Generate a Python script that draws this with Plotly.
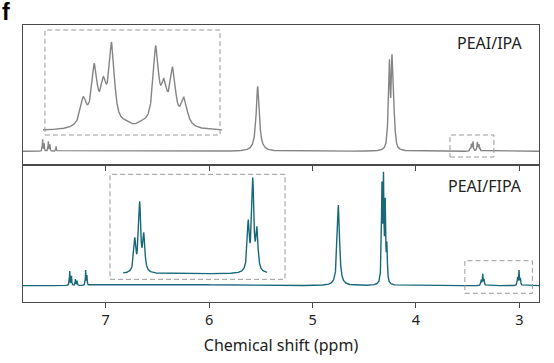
import numpy as np
import plotly.graph_objects as go

# ---------------- data ----------------
# Peak lists: chemical shift (ppm), peak height (a.u.), half-width (ppm)
ipa_ppm = [7.610, 7.595, 7.555, 7.540, 7.480,
           5.530,
           4.271, 4.256, 4.232, 4.217, 4.200,
           3.4737, 3.4635, 3.4552, 3.4475, 3.4343, 3.4193, 3.4069, 3.3993, 3.3913, 3.3808]
ipa_height = [12, 8, 10, 7, 5,
              65,
              35, 92, 97, 65, 20,
              3.85, 7.6, 6.1, 10.0, 1.24, 1.24, 9.6, 5.9, 7.2, 3.8]
ipa_width = [0.003, 0.003, 0.003, 0.003, 0.003,
             0.018,
             0.008, 0.008, 0.008, 0.008, 0.008,
             0.0034, 0.0031, 0.0031, 0.003, 0.0045, 0.0045, 0.003, 0.0031, 0.0031, 0.0034]

fipa_ppm = [7.348, 7.331, 7.293, 7.277, 7.194, 7.182,
            6.270,
            4.750,
            4.329, 4.314, 4.297, 4.281,
            3.369, 3.354, 3.341, 3.017, 3.003, 2.990]
fipa_height = [14.7, 10, 6.7, 5, 15.7, 10.7,
               1.7,
               80.7,
               104, 114, 88, 44,
               6.0, 11.9, 6.8, 8.9, 15.8, 7.8]
fipa_width = [0.003, 0.003, 0.003, 0.003, 0.003, 0.003,
              0.30,
              0.013,
              0.005, 0.005, 0.005, 0.005,
              0.0038, 0.0038, 0.0038, 0.0038, 0.0038, 0.0038]

x_ticks = [7, 6, 5, 4, 3]
labels = ["PEAI/IPA", "PEAI/FIPA"]

GRAY = "#848484"
TEAL = "#18687a"
BOX = "#999999"


def spectrum(x, pos, hgt, wid):
    pos = np.asarray(pos, float)
    hgt = np.asarray(hgt, float)
    wid = np.asarray(wid, float)
    M = wid[None, :] ** 2 / ((pos[:, None] - pos[None, :]) ** 2 + wid[None, :] ** 2)
    amp = np.linalg.solve(M, hgt)
    y = np.zeros_like(x)
    for a, p, w in zip(amp, pos, wid):
        y += a * w ** 2 / ((x - p) ** 2 + w ** 2)
    return y


x_main = np.arange(2.80, 7.81, 0.0004)
y_ipa = spectrum(x_main, ipa_ppm, ipa_height, ipa_width)
y_fipa = spectrum(x_main, fipa_ppm, fipa_height, fipa_width)

ins1_range = [3.5108, 3.3459]
x_ins1 = np.linspace(ins1_range[1], ins1_range[0], 2000)
y_ins1 = spectrum(x_ins1, ipa_ppm, ipa_height, ipa_width)

ins2_range = [3.446, 2.903]
x_ins2 = np.linspace(2.959, 3.405, 2500)
y_ins2 = spectrum(x_ins2, fipa_ppm, fipa_height, fipa_width)

fig = go.Figure()
fig.add_trace(go.Scatter(x=x_main, y=y_ipa, mode="lines", line=dict(color=GRAY, width=1.4),
                         xaxis="x", yaxis="y", showlegend=False, hoverinfo="skip"))
fig.add_trace(go.Scatter(x=x_main, y=y_fipa, mode="lines", line=dict(color=TEAL, width=1.4),
                         xaxis="x2", yaxis="y2", showlegend=False, hoverinfo="skip"))
fig.add_trace(go.Scatter(x=x_ins1, y=y_ins1, mode="lines", line=dict(color=GRAY, width=1.4),
                         xaxis="x3", yaxis="y3", showlegend=False, hoverinfo="skip"))
fig.add_trace(go.Scatter(x=x_ins2, y=y_ins2, mode="lines", line=dict(color=TEAL, width=1.4),
                         xaxis="x4", yaxis="y4", showlegend=False, hoverinfo="skip"))

AX = "#4a4a4a"
split = 0.4946
common_x = dict(range=[7.80, 2.81], showline=True, mirror=True, linecolor=AX, linewidth=1,
                ticks="outside", ticklen=5, tickcolor=AX, tickvals=x_ticks,
                showgrid=False, zeroline=False)
common_y = dict(showline=True, mirror=True, linecolor=AX, linewidth=1, showticklabels=False,
                ticks="", showgrid=False, zeroline=False)

fig.update_layout(
    width=554, height=363,
    margin=dict(l=23, r=15, t=25, b=61),
    paper_bgcolor="white", plot_bgcolor="rgba(0,0,0,0)",
    font=dict(family="Noto Sans, Open Sans, sans-serif", color="#222222", size=14),
    xaxis=dict(common_x, anchor="y", showticklabels=False),
    yaxis=dict(common_y, domain=[split, 1], range=[-13.7, 126.3], anchor="x"),
    xaxis2=dict(common_x, anchor="y2", showticklabels=True,
                tickfont=dict(size=14.5, color="#222222"),
                title=dict(text="Chemical shift (ppm)", font=dict(size=16, color="#222222"), standoff=11)),
    yaxis2=dict(common_y, domain=[0, split], range=[-16.3, 120.7], anchor="x2"),
    xaxis3=dict(domain=[(43 - 23) / 516, (222 - 23) / 516], range=ins1_range, visible=False, anchor="y3"),
    yaxis3=dict(domain=[(302 - 135) / 277, (302 - 30) / 277], range=[-0.449, 11.35], visible=False, anchor="x3"),
    xaxis4=dict(domain=[(110 - 23) / 516, (285 - 23) / 516], range=ins2_range, visible=False, anchor="y4"),
    yaxis4=dict(domain=[(302 - 279.3) / 277, (302 - 174.3) / 277], range=[-0.869, 16.34], visible=False, anchor="x4"),
)

dash = dict(color=BOX, width=1, dash="5px,3px")
shapes = [
    # inset frames
    dict(type="rect", xref="x3", yref="y3 domain", x0=3.509, x1=3.3477, y0=0, y1=1, line=dash),
    dict(type="rect", xref="x4 domain", yref="y4 domain", x0=0, x1=1, y0=0, y1=1, line=dash),
    # zoomed regions on the main spectra
    dict(type="rect", xref="x", yref="y", x0=3.671, x1=3.246, y0=-5.7, y1=16.3, line=dash),
    dict(type="rect", xref="x2", yref="y2", x0=3.527, x1=2.874, y0=-7.6, y1=25.0, line=dash),
]
fig.update_layout(shapes=shapes)

fig.add_annotation(text=labels[0], xref="paper", yref="paper", x=(524 - 23) / 516, y=(302 - 42.5) / 277,
                   xanchor="right", yanchor="middle", showarrow=False, font=dict(size=16, color="#222222"))
fig.add_annotation(text=labels[1], xref="paper", yref="paper", x=(524 - 23) / 516, y=(302 - 186) / 277,
                   xanchor="right", yanchor="middle", showarrow=False, font=dict(size=16, color="#222222"))
fig.add_annotation(text="<b>f</b>", xref="paper", yref="paper", x=(0 - 23) / 516, y=(302 - 12) / 277,
                   xanchor="left", yanchor="middle", showarrow=False,
                   font=dict(family="Liberation Sans, Arial, sans-serif", size=23, color="#000000"))

fig.write_html("out.html", post_script="document.body.style.margin='0';",
               config={"displayModeBar": False})
